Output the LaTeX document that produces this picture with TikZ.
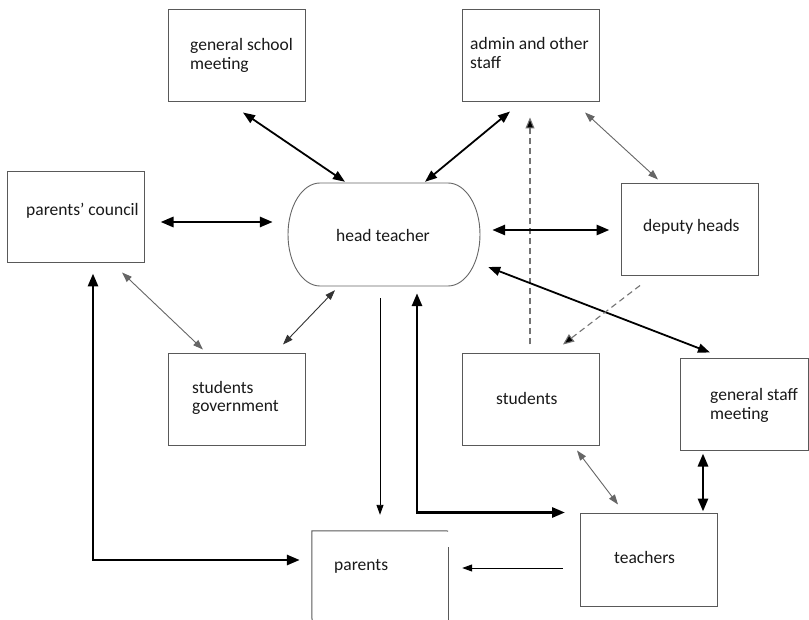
\documentclass[tikz,border=0pt]{standalone}
\usepackage{fontspec}
\setmainfont{Carlito}
\usetikzlibrary{arrows.meta}

\begin{document}
\begin{tikzpicture}[x=1pt,y=-1pt,
  box/.style={draw=black!65, line width=1pt, inner sep=0},
  lbl/.style={font=\fontsize{17.5}{19}\selectfont, text=black!90, inner sep=0, align=left, anchor=base west},
  heavy/.style={line width=2.8pt, {Triangle[length=13pt,width=10pt]}-{Triangle[length=13pt,width=10pt]}},
  medium/.style={line width=1.8pt, {Triangle[length=12pt,width=9pt]}-{Triangle[length=12pt,width=9pt]}},
  fine/.style={line width=0.9pt, draw=black!60, {Triangle[length=10pt,width=7pt]}-{Triangle[length=10pt,width=7pt]}},
  oneway/.style={line width=0.9pt, -{Triangle[length=10pt,width=7pt]}},
  dashline/.style={line width=1.1pt, draw=black!55, dash pattern=on 6pt off 4pt, -{Triangle[length=11pt,width=9pt,fill=black]}}
]
\useasboundingbox (0,0) rectangle (809,620);
\fill[white] (0,0) rectangle (809,620);

% boxes
\node[box, minimum width=137, minimum height=92] (gsm) at (236.5,56) {};
\node[box, minimum width=137, minimum height=92] (admin) at (530.5,56) {};
\node[box, minimum width=137, minimum height=91] (pc) at (75.5,217.5) {};
\node[box, minimum width=137, minimum height=92] (deputy) at (689.5,230) {};
\node[box, minimum width=137, minimum height=91] (sg) at (236.5,399.5) {};
\node[box, minimum width=137, minimum height=91] (students) at (530.5,399.5) {};
\node[box, minimum width=128, minimum height=91] (gensm) at (744,404.5) {};
\node[box, minimum width=137, minimum height=93] (teachers) at (648.5,559.5) {};

% parents box, open at the top right corner and cut at the bottom
\node[inner sep=0, minimum width=136, minimum height=89] (parents) at (380,575.5) {};
\draw[black!65, line width=1pt] (312,620) -- (parents.north west) -- (448,531);
\draw[black!65, line width=1pt] (448,547) -- (448,620);

% head teacher, a box with bulging ends
\node[inner sep=0, minimum width=192, minimum height=103] (head) at (384,234.5) {};
\draw[black!60, line width=0.9pt] (320,183) -- (448,183)
  arc[start angle=90, end angle=-90, x radius=32pt, y radius=51.5pt]
  -- (320,286)
  arc[start angle=270, end angle=90, x radius=32pt, y radius=51.5pt] -- cycle;

% labels (base = baseline of the last line)
\node[lbl] (tgsm) at (190,70) {general school\\meeting};
\node[lbl] (tadmin) at (470,69) {admin and other\\staff};
\node[lbl] (tpc) at (26,216) {parents' council};
\node[lbl, anchor=base] (thead) at (383,242) {head teacher};
\node[lbl] (tdeputy) at (643,232) {deputy heads};
\node[lbl] (tsg) at (192,412) {students\\government};
\node[lbl] (tstudents) at (496,404) {students};
\node[lbl] (tgensm) at (710,420) {general staff\\meeting};
\node[lbl] (tteachers) at (614,563) {teachers};
\node[lbl] (tparents) at (334,570) {parents};

% connectors
\draw[medium] ([shift={(6.5,10)}]gsm.south) -- ([shift={(-39,-1)}]head.north);
\draw[medium] ([shift={(-20.5,9)}]admin.south) -- ([shift={(41,-1)}]head.north);
\draw[fine] ([shift={(54.5,10)}]admin.south) -- ([shift={(-31.5,-4)}]deputy.north);
\draw[dashline] ([shift={(-0.5,-9)}]students.north) -- ([shift={(-0.5,15)}]admin.south);
\draw[heavy] ([shift={(16,4.5)}]pc.east) -- ([shift={(-15,-12.5)}]head.west);
\draw[heavy] ([shift={(12,-4.5)}]head.east) -- ([shift={(-11,0)}]deputy.west);
\draw[medium] ([shift={(8,32.5)}]head.east) -- ([shift={(-34,-6)}]gensm.north);
\draw[dashline] ([shift={(-49.5,9)}]deputy.south) -- ([shift={(32.5,-9)}]students.north);
\draw[fine] ([shift={(46.5,9)}]pc.south) -- ([shift={(-33.5,-4)}]sg.north);
\draw[fine, draw=black!80] ([shift={(46.5,-9)}]sg.north) -- ([shift={(-49,4)}]head.south);
\draw[oneway] ([shift={(-4,12)}]head.south) -- ([shift={(0,-16)}]parents.north);
\draw[heavy] ([shift={(33,7)}]head.south) |- ([shift={(-83.5,0)}]teachers.north);
\draw[heavy] ([shift={(17.5,10)}]pc.south) |- ([shift={(-12,-15.5)}]parents.west);
\draw[oneway] ([shift={(-17,8.5)}]teachers.west) -- ([shift={(14,-7.5)}]parents.east);
\draw[fine] ([shift={(46.5,5)}]students.south) -- ([shift={(-30.5,-8)}]teachers.north);
\draw[heavy] ([shift={(-41,3)}]gensm.south) -- ([shift={(54.5,-1)}]teachers.north);
\end{tikzpicture}
\end{document}
